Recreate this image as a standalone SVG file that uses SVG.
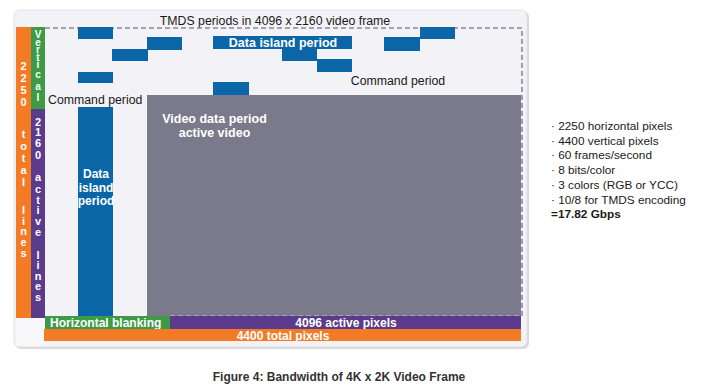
<svg xmlns="http://www.w3.org/2000/svg" width="709" height="391" viewBox="0 0 709 391">
<style>
.blue{fill:#0a66a6}
.w{fill:#ffffff;font-family:"Liberation Sans",Arial,sans-serif;font-weight:bold}
.vt{fill:#ffffff;font-family:"Liberation Sans",Arial,sans-serif;font-weight:bold;font-size:11px;text-anchor:middle}
.vg{fill:#ffffff;font-family:"Liberation Sans",Arial,sans-serif;font-weight:bold;font-size:10px;text-anchor:middle}
.k{fill:#1a1a1a;font-family:"Liberation Sans",Arial,sans-serif;font-size:12.3px}
.dash{fill:none;stroke:#8d86a0;stroke-width:1.6;stroke-dasharray:5 3}
</style>
<rect width="709" height="391" fill="#ffffff"/>
<g id="panel">
<rect x="15" y="11" width="514" height="338" rx="6" fill="#d9d9dc"/>
<rect x="14" y="10" width="513" height="337" rx="6" fill="#f3f2f6" stroke="#e2e1e6" stroke-width="1"/>
<rect x="16" y="318" width="28" height="28" fill="#f8f8fa"/>
</g>
<g id="title">
<text class="k" x="275" y="25" text-anchor="middle">TMDS periods in 4096 x 2160 video frame</text>
</g>
<g id="video-area">
<rect x="147" y="95" width="374" height="221" fill="#7b7a8a"/>
<text class="w" x="214.5" y="123" text-anchor="middle" font-size="12.5">Video data period</text>
<text class="w" x="214.5" y="137" text-anchor="middle" font-size="12.5">active video</text>
</g>
<g id="frame-border">
<path class="dash" d="M45 28 H522 V316"/>
<path d="M170 316 H521" fill="none" stroke="#b9aed2" stroke-width="1.6" stroke-dasharray="5 3"/>
</g>
<g id="data-islands">
<rect class="blue" x="78" y="27" width="35" height="12"/>
<rect class="blue" x="147" y="37" width="35" height="13"/>
<rect class="blue" x="112" y="49" width="36" height="12"/>
<rect class="blue" x="78" y="72" width="35" height="11"/>
<rect class="blue" x="213" y="36" width="139" height="13"/>
<rect class="blue" x="282" y="49" width="35" height="12"/>
<rect class="blue" x="317" y="59" width="35" height="13"/>
<rect class="blue" x="384" y="37" width="36" height="14"/>
<rect class="blue" x="420" y="27" width="35" height="12"/>
<rect class="blue" x="213" y="82" width="36" height="13"/>
<text class="w" x="283" y="47" text-anchor="middle" font-size="12.5">Data island period</text>
</g>
<g id="command-period-labels">
<text class="k" x="398" y="85" text-anchor="middle" font-size="12.4px">Command period</text>
<text class="k" x="48" y="104" font-size="12.4px">Command period</text>
</g>
<g id="data-island-column">
<rect class="blue" x="78" y="107" width="35" height="209"/>
<text class="w" x="96" y="178" text-anchor="middle" font-size="12">Data</text>
<text class="w" x="96" y="192" text-anchor="middle" font-size="12">island</text>
<text class="w" x="96" y="205" text-anchor="middle" font-size="12">period</text>
</g>
<g id="total-lines-bar">
<rect x="16" y="27" width="15" height="291" fill="#f47b25"/>
<text class="vt" x="23.5" y="70">2</text>
<text class="vt" x="23.5" y="82">2</text>
<text class="vt" x="23.5" y="94">5</text>
<text class="vt" x="23.5" y="106">0</text>
<text class="vt" x="23.5" y="138">t</text>
<text class="vt" x="23.5" y="150">o</text>
<text class="vt" x="23.5" y="162">t</text>
<text class="vt" x="23.5" y="174">a</text>
<text class="vt" x="23.5" y="186">l</text>
<text class="vt" x="23.5" y="214">l</text>
<text class="vt" x="23.5" y="225">i</text>
<text class="vt" x="23.5" y="235">n</text>
<text class="vt" x="23.5" y="246">e</text>
<text class="vt" x="23.5" y="257">s</text>
</g>
<g id="vertical-blanking-bar">
<rect x="31" y="27" width="14" height="82" fill="#3d9b48"/>
<text class="vg" x="38" y="38">V</text>
<text class="vg" x="38" y="46">e</text>
<text class="vg" x="38" y="53">r</text>
<text class="vg" x="38" y="61">t</text>
<text class="vg" x="38" y="68">i</text>
<text class="vg" x="38" y="78">c</text>
<text class="vg" x="38" y="90">a</text>
<text class="vg" x="38" y="101">l</text>
</g>
<g id="active-lines-bar">
<rect x="31" y="109" width="14" height="209" fill="#5a3b8c"/>
<text class="vt" x="38" y="126">2</text>
<text class="vt" x="38" y="136">1</text>
<text class="vt" x="38" y="147">6</text>
<text class="vt" x="38" y="159">0</text>
<text class="vt" x="38" y="181">a</text>
<text class="vt" x="38" y="193">c</text>
<text class="vt" x="38" y="204">t</text>
<text class="vt" x="38" y="214">i</text>
<text class="vt" x="38" y="225">v</text>
<text class="vt" x="38" y="236">e</text>
<text class="vt" x="38" y="259">l</text>
<text class="vt" x="38" y="269">i</text>
<text class="vt" x="38" y="280">n</text>
<text class="vt" x="38" y="290">e</text>
<text class="vt" x="38" y="301">s</text>
</g>
<g id="horizontal-blanking-bar">
<rect x="45" y="316" width="125" height="14" fill="#3d9b48"/>
<text class="w" x="50" y="327" font-size="12">Horizontal blanking</text>
</g>
<g id="active-pixels-bar">
<rect x="170" y="316" width="351" height="13" fill="#5a3b8c"/>
<text class="w" x="346" y="327" text-anchor="middle" font-size="12">4096 active pixels</text>
</g>
<g id="total-pixels-bar">
<rect x="44" y="329" width="477" height="12" fill="#f47b25"/>
<text class="w" x="283" y="340" text-anchor="middle" font-size="12" fill="#fff6ea">4400 total pixels</text>
</g>
<g id="notes" font-family="Liberation Sans, Arial, sans-serif" font-size="11.8px" fill="#1a1a1a">
<text x="551" y="130">· 2250 horizontal pixels</text>
<text x="551" y="144.7">· 4400 vertical pixels</text>
<text x="551" y="159.4">· 60 frames/second</text>
<text x="551" y="174.1">· 8 bits/color</text>
<text x="551" y="188.8">· 3 colors (RGB or YCC)</text>
<text x="551" y="203.5">· 10/8 for TMDS encoding</text>
<text x="551" y="218.2" font-weight="bold">=17.82 Gbps</text>
</g>
<g id="caption">
<text x="339" y="381" text-anchor="middle" font-family="Liberation Sans, Arial, sans-serif" font-size="12px" font-weight="bold" fill="#333333">Figure 4: Bandwidth of 4K x 2K Video Frame</text>
</g>
</svg>
